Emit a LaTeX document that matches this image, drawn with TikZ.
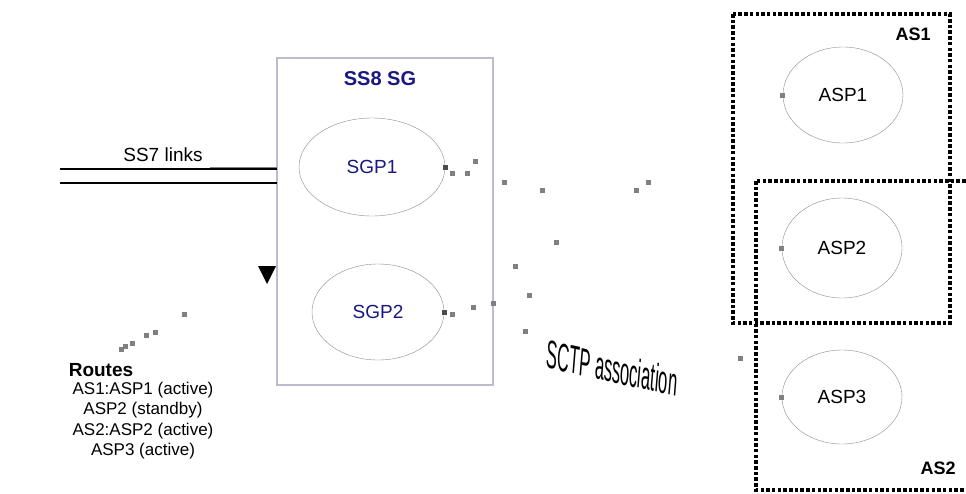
\documentclass[tikz,border=0pt]{standalone}
\usepackage{fontspec}
\setmainfont{Liberation Sans}
\usetikzlibrary{shapes.geometric}

\definecolor{sgblue}{RGB}{24,24,128}
\definecolor{sgframe}{RGB}{188,188,206}
\definecolor{pgray}{RGB}{140,140,140}
\definecolor{dotgray}{RGB}{128,128,128}

\tikzset{
  proc/.style={ellipse,draw=pgray,thin,inner sep=0pt},
  asbox/.style={draw=black,line width=3.2pt,dash pattern=on 3.5pt off 2.2pt},
  sqdot/.style={fill=dotgray,minimum size=5pt,inner sep=0pt},
  sqdark/.style={fill=black!70,minimum size=5pt,inner sep=0pt},
}

\begin{document}
\begin{tikzpicture}[x=1pt,y=-1pt]
  \clip (0,0) rectangle (966,493);
  \fill[white] (0,0) rectangle (966,493);

  % signalling gateway
  \draw[sgframe,line width=1.2pt] (277,58) rectangle (493,385);
  \node[font=\fontsize{20}{24}\bfseries,text=sgblue] (sgtitle) at (380,79) {SS8 SG};

  \begin{scope}[every node/.style={proc,font=\fontsize{19}{22}\selectfont,text=sgblue}]
    \node[minimum width=146pt,minimum height=98pt] (sgp1) at (372,167) {SGP1};
    \node[minimum width=132pt,minimum height=96pt] (sgp2) at (378,312) {SGP2};
  \end{scope}

  % SS7 links
  \coordinate (l1) at (60,169);
  \coordinate (l2) at (60,183);
  \draw[line width=2pt] (l1) -- (l1 -| 277,0);
  \draw[line width=2pt] (l2) -- (l2 -| 277,0);
  \draw[dotgray,line width=1.5pt] (210,167.5) -- (277,167.5);
  \node[font=\fontsize{19}{22}\selectfont] (ss7) at (163,155) {SS7 links};

  % route table marker
  \fill (258,266) -- (276,266) -- (267,284) -- cycle;

  \node[font=\fontsize{19}{22}\bfseries] (routes) at (101,370) {Routes};
  \begin{scope}[every node/.style={font=\fontsize{17}{20}\selectfont}]
    \node (r1) at (143,390) {AS1:ASP1 (active)};
    \node (r2) at (143,410) {ASP2 (standby)};
    \node (r3) at (143,431) {AS2:ASP2 (active)};
    \node (r4) at (143,451) {ASP3 (active)};
  \end{scope}

  % application servers
  \draw[asbox] (733,14) rectangle (950,323);
  \draw[asbox] (756,181) rectangle (985,490);
  \node[font=\fontsize{18}{22}\bfseries] (as1) at (913,34) {AS1};
  \node[font=\fontsize{18}{22}\bfseries] (as2) at (938,468) {AS2};

  \begin{scope}[every node/.style={proc,font=\fontsize{19}{22}\selectfont,
      minimum width=120pt}]
    \node[minimum height=96pt] (asp1) at (843,95) {ASP1};
    \node[minimum height=100pt] (asp2) at (842,248) {ASP2};
    \node[minimum height=94pt] (asp3) at (842,397) {ASP3};
  \end{scope}

  % SCTP associations (what is left of the dotted lines)
  \node[sqdark] at (sgp1.east) {};
  \node[sqdark] at (sgp2.east) {};
  \foreach \x/\y in {452/173,467/173,475/161,504/182,542/190,636/190,648/182,
      556/242,515/266,529/295,525/331,493/303,473/307,452/314,740/358}
    \node[sqdot] at (\x,\y) {};
  \node[sqdot] at (asp1.west) {};
  \node[sqdot] at (asp2.west) {};
  \node[sqdot] at (asp3.west) {};
  \foreach \x/\y in {121/349,125/346,132/343,146/335,155/332,184/314}
    \node[sqdot] at (\x,\y) {};

  \node[font=\fontsize{40}{44}\itshape,xscale=0.41,yslant=-0.09] (sctp)
    at (612,368) {SCTP association};
\end{tikzpicture}
\end{document}
